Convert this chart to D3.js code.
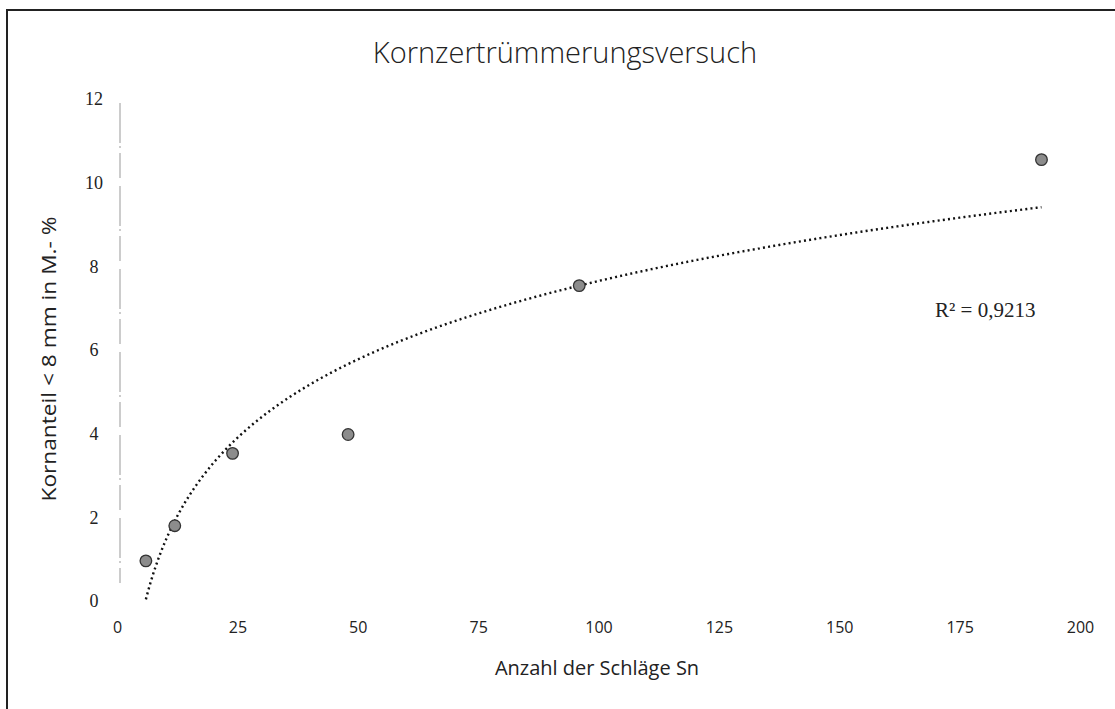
<!DOCTYPE html>
<html>
<head>
<meta charset="utf-8">
<script src="https://cdn.jsdelivr.net/npm/d3@7"></script>
<style>
body { margin: 0; background: #fff; }
svg { display: block; }
</style>
</head>
<body>
<svg id="chart"></svg>
<script>
// Messwerte
var schlaege = [6, 12, 24, 48, 96, 192];
var kornanteil = [0.96, 1.8, 3.53, 3.98, 7.54, 10.55];
var xTicks = [0, 25, 50, 75, 100, 125, 150, 175, 200];
var yTicks = [0, 2, 4, 6, 8, 10, 12];
var titel = "Kornzertrümmerungsversuch";
var xTitel = "Anzahl der Schläge Sn";
var yTitel = "Kornanteil < 8 mm in M.- %";
var r2Label = "R² = 0,9213";

function render()
{
	var width = 1115, height = 709;
	var svg = d3.select('#chart')
		.attr('width', width)
		.attr('height', height);

	svg.append('rect')
		.attr('width', width).attr('height', height)
		.attr('fill', '#fff');

	// Rahmen (nur oben und links sichtbar)
	svg.append('path')
		.attr('d', 'M7,709 L7,10 L1115,10')
		.attr('fill', 'none')
		.attr('stroke', '#222')
		.attr('stroke-width', 2);

	var xScale = d3.scaleLinear().domain([0, 200]).range([117, 1080]);
	var yScale = d3.scaleLinear().domain([0, 12]).range([601, 99]);

	// logarithmische Trendlinie y = a ln(x) + b
	var lx = schlaege.map(function(d){ return Math.log(d); });
	var mx = d3.mean(lx), my = d3.mean(kornanteil);
	var sxx = 0, sxy = 0;
	for (var i = 0; i < lx.length; i++)
	{
		sxx += (lx[i] - mx) * (lx[i] - mx);
		sxy += (lx[i] - mx) * (kornanteil[i] - my);
	}
	var a = sxy / sxx;
	var b = my - a * mx;

	var xAxis = d3.axisBottom(xScale).tickValues(xTicks).tickSize(0).tickPadding(21);
	var yAxis = d3.axisLeft(yScale).tickValues(yTicks).tickSize(0);

	var gx = svg.append('g')
		.attr('transform', 'translate(0,' + yScale(0) + ')')
		.call(xAxis);
	gx.select('.domain').remove();
	gx.selectAll('text')
		.attr('font-family', '"Open Sans", sans-serif')
		.attr('font-size', 16)
		.attr('fill', '#222');

	var gy = svg.append('g')
		.attr('transform', 'translate(' + xScale(0) + ',0)')
		.call(yAxis);
	gy.select('.domain').remove();
	gy.selectAll('text')
		.attr('x', -23)
		.attr('text-anchor', 'middle')
		.attr('font-family', '"Liberation Serif", serif')
		.attr('font-size', 18)
		.attr('fill', '#222');

	// senkrechte Achse (blass, unterbrochen)
	svg.append('line')
		.attr('x1', xScale(0) + 3).attr('x2', xScale(0) + 3)
		.attr('y1', yScale(12) + 4).attr('y2', yScale(0) - 18)
		.attr('stroke', '#999')
		.attr('stroke-width', 1)
		.attr('stroke-dasharray', '40,3,2,5,25,8');

	// Trendlinie
	var xs = d3.range(schlaege[0], schlaege[schlaege.length - 1] + 0.5, 0.5);
	var line = d3.line()
		.x(function(d){ return xScale(d); })
		.y(function(d){ return yScale(a * Math.log(d) + b); });
	svg.append('path')
		.datum(xs)
		.attr('d', line)
		.attr('fill', 'none')
		.attr('stroke', '#111')
		.attr('stroke-width', 2.4)
		.attr('stroke-dasharray', '2,3.2');

	// Messpunkte
	svg.append('g').selectAll('circle')
		.data(schlaege).enter()
		.append('circle')
		.attr('cx', function(d){ return xScale(d); })
		.attr('cy', function(d, i){ return yScale(kornanteil[i]); })
		.attr('r', 5.8)
		.attr('fill', '#8c8c8c')
		.attr('stroke', '#333')
		.attr('stroke-width', 1.3);

	// Texte
	svg.append('text')
		.attr('x', 565).attr('y', 63)
		.attr('text-anchor', 'middle')
		.attr('font-family', '"Open Sans", sans-serif')
		.attr('font-weight', 300)
		.attr('font-size', 29)
		.attr('fill', '#222')
		.text(titel);

	svg.append('text')
		.attr('x', 597).attr('y', 675)
		.attr('text-anchor', 'middle')
		.attr('font-family', '"Open Sans", sans-serif')
		.attr('font-size', 20)
		.attr('fill', '#222')
		.text(xTitel);

	svg.append('text')
		.attr('transform', 'translate(56,359) rotate(-90)')
		.attr('text-anchor', 'middle')
		.attr('font-family', '"Open Sans", sans-serif')
		.attr('font-size', 20)
		.attr('textLength', 285)
		.attr('lengthAdjust', 'spacingAndGlyphs')
		.attr('fill', '#222')
		.text(yTitel);

	svg.append('text')
		.attr('x', 935).attr('y', 317)
		.attr('font-family', '"Liberation Serif", serif')
		.attr('font-size', 21)
		.attr('fill', '#222')
		.text(r2Label);
}

render();
</script>
</body>
</html>
